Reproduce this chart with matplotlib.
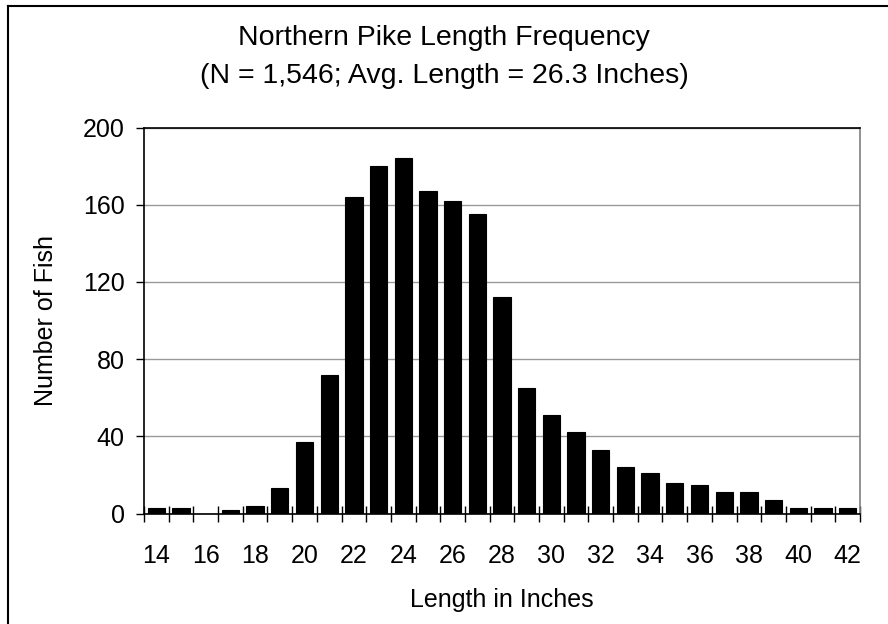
import matplotlib
matplotlib.use("Agg")
import matplotlib.pyplot as plt
from matplotlib.lines import Line2D
import numpy as np

plt.rcParams['font.family'] = ['Liberation Sans', 'DejaVu Sans']

lengths = list(range(14, 43))
counts = [3, 3, 0, 2, 4, 13, 37, 72, 164, 180, 184, 167, 162, 155, 112,
          65, 51, 42, 33, 24, 21, 16, 15, 11, 11, 7, 3, 3, 3]
tick_labels = [str(v) if v % 2 == 0 else "" for v in lengths]
y_ticks = [0, 40, 80, 120, 160, 200]

fig = plt.figure(figsize=(8.88, 6.24), dpi=100)
ax = fig.add_axes([144/888, 1 - 513.5/624, (860-144)/888, (513.5-127.5)/624])

x = np.arange(len(lengths))
ax.bar(x, counts, width=0.7, color='black', edgecolor='black', linewidth=0.8, zorder=3)

ax.set_xlim(-0.5, len(lengths) - 0.5)
ax.set_ylim(0, 200)
ax.set_yticks(y_ticks)
ax.set_yticklabels([str(v) for v in y_ticks], fontsize=18)
ax.yaxis.grid(True, color='#999999', linewidth=1.0, zorder=0)

# category labels at centers, tick marks between categories
ax.set_xticks(x)
ax.set_xticklabels(tick_labels, fontsize=18)
ax.tick_params(axis='x', length=0, pad=22)
ax.set_xticks(np.arange(-0.5, len(lengths) + 0.5, 1), minor=True)
ax.tick_params(axis='x', which='minor', direction='inout', length=12, width=1, color='black')
ax.tick_params(axis='y', direction='out', length=6, width=1, pad=8)

for s in ['left', 'bottom', 'top']:
    ax.spines[s].set_color('black')
    ax.spines[s].set_linewidth(1.2)
ax.spines['right'].set_color('#808080')
ax.spines['right'].set_linewidth(1.2)

ax.set_xlabel('Length in Inches', fontsize=18, labelpad=14)
ax.set_ylabel('Number of Fish', fontsize=18, labelpad=18)

fig.text(0.5, 1 - 38/624, 'Northern Pike Length Frequency', ha='center', va='center', fontsize=20.5)
fig.text(0.5, 1 - 76/624, '(N = 1,546; Avg. Length = 26.3 Inches)', ha='center', va='center', fontsize=20.5)

# outer frame (left and top visible)
fig.add_artist(Line2D([8/888, 8/888], [0, 1 - 6/624], color='black', linewidth=1.5, transform=fig.transFigure))
fig.add_artist(Line2D([8/888, 1], [1 - 6/624, 1 - 6/624], color='black', linewidth=1.5, transform=fig.transFigure))

fig.savefig('out.png', dpi=100)
